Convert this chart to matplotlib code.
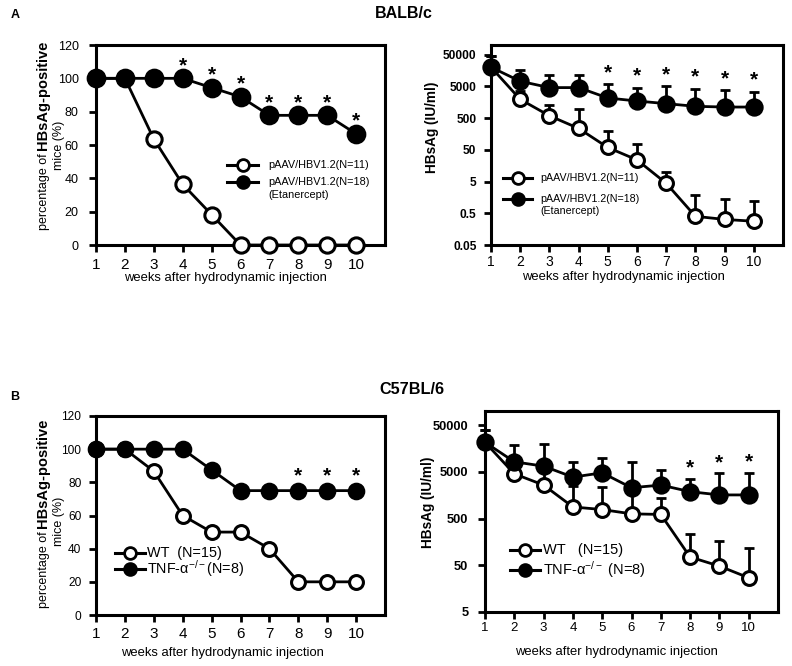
import matplotlib
matplotlib.use("Agg")
import matplotlib.pyplot as plt
from matplotlib.lines import Line2D
from matplotlib.ticker import NullLocator

plt.rcParams['font.family'] = ['Liberation Sans', 'DejaVu Sans']
plt.rcParams['mathtext.fontset'] = 'custom'
plt.rcParams['mathtext.rm'] = 'Liberation Sans'
plt.rcParams['mathtext.it'] = 'Liberation Sans:italic'
plt.rcParams['mathtext.bf'] = 'Liberation Sans:bold'

# ---- data ----
weeks = [1, 2, 3, 4, 5, 6, 7, 8, 9, 10]

# A: BALB/c, percentage HBsAg-positive
balb_pct_ctrl = [100, 100, 63.6, 36.4, 18.2, 0, 0, 0, 0, 0]
balb_pct_etan = [100, 100, 100, 100, 94.4, 88.9, 77.8, 77.8, 77.8, 66.7]
balb_pct_stars = [4, 5, 6, 7, 8, 9, 10]

# A: BALB/c, serum HBsAg (IU/ml), mean and upper SD
balb_hbs_ctrl = [20000, 1940, 590, 236, 59, 24, 4.4, 0.40, 0.32, 0.28]
balb_hbs_ctrl_sd = [24000, 1560, 730, 724, 141, 52, 5.9, 1.54, 1.10, 0.92]
balb_hbs_etan = [20000, 7200, 4550, 4550, 2140, 1720, 1420, 1170, 1110, 1110]
balb_hbs_etan_sd = [24000, 9600, 6550, 6550, 3640, 2830, 3580, 3040, 2630, 2210]
balb_hbs_stars = [5, 6, 7, 8, 9, 10]

# B: C57BL/6, percentage HBsAg-positive
c57_pct_wt = [100, 100, 86.7, 60, 50, 50, 40, 20, 20, 20]
c57_pct_ko = [100, 100, 100, 100, 87.5, 75, 75, 75, 75, 75]
c57_pct_stars = [8, 9, 10]

# B: C57BL/6, serum HBsAg (IU/ml)
c57_hbs_wt = [21400, 4530, 2600, 885, 778, 630, 612, 75, 48, 27]
c57_hbs_wt_sd = [18600, 2470, 2900, 1615, 1612, 1370, 768, 153, 117, 92]
c57_hbs_ko = [21400, 8180, 6600, 3850, 4760, 2280, 2600, 1880, 1600, 1600]
c57_hbs_ko_sd = [18600, 10920, 13400, 4200, 5140, 5770, 2800, 1670, 3000, 3160]
c57_hbs_stars = [8, 9, 10]

pct_ticks = [0, 20, 40, 60, 80, 100, 120]
balb_log_ticks = [0.05, 0.5, 5, 50, 500, 5000, 50000]
c57_log_ticks = [5, 50, 500, 5000, 50000]

W, H = 792, 666
fig = plt.figure(figsize=(W / 100, H / 100), dpi=100)
renderer = fig.canvas.get_renderer()


def fx(x):
    return x / W


def fy(y):
    return 1 - y / H


def make_axes(l, t, r, b):
    return fig.add_axes([fx(l), fy(b), (r - l) / W, (b - t) / H])


def style(ax, ysize, ybold, ypad, xsize, xpad):
    for s in ax.spines.values():
        s.set_linewidth(2.2)
    ax.set_xlim(1, 11)
    ax.set_xticks(weeks)
    ax.set_xticklabels([str(w) for w in weeks], fontsize=xsize)
    ax.tick_params(axis='x', direction='out', length=5, width=2, pad=xpad)
    ax.tick_params(axis='y', direction='out', length=5, width=2, pad=ypad)
    for lab in ax.get_yticklabels():
        lab.set_fontsize(ysize)
        if ybold:
            lab.set_fontweight('bold')
    ax.yaxis.set_minor_locator(NullLocator())


def series(ax, vals, filled, ms, sd=None):
    z = 4 if filled else 3
    if sd is not None:
        ax.errorbar(weeks, vals, yerr=[[0] * len(sd), sd], fmt='none', ecolor='k',
                    elinewidth=2, capsize=3.5, capthick=2, zorder=2.9, clip_on=False)
    ax.plot(weeks, vals, '-o', color='k', lw=2, ms=ms, mew=2.2, mec='k',
            mfc='k' if filled else 'white', clip_on=False, zorder=z)


def stars(ax, which, vals, sd, off):
    for w in which:
        i = weeks.index(w)
        top = vals[i] + (sd[i] if sd is not None else 0)
        ax.annotate('*', xy=(w, top), xytext=(0, off), textcoords='offset points',
                    ha='center', va='baseline', fontsize=15, fontweight='bold',
                    annotation_clip=False)


def legend_row(x0, x1, y, filled, ms, text, size, tx):
    fig.add_artist(Line2D([fx(x0), fx(x1)], [fy(y), fy(y)], color='k', lw=2.2))
    fig.add_artist(Line2D([fx((x0 + x1) / 2)], [fy(y)], marker='o', ms=ms, mew=2,
                          mec='k', mfc='k' if filled else 'white'))
    fig.text(fx(tx), fy(y), text, fontsize=size, ha='left', va='center')


def pct_ylabel(x_base, y_start, x2, y2):
    y = y_start
    for s, wt, sz, gap in [('percentage of', 'normal', 9, 3.5),
                           ('HBsAg-positive', 'bold', 10.5, 0)]:
        t = fig.text(fx(x_base), fy(y), s, rotation=90, rotation_mode='anchor',
                     ha='left', va='baseline', fontsize=sz, fontweight=wt)
        bb = t.get_window_extent(renderer)
        y -= bb.height + gap
    fig.text(fx(x2), fy(y2), 'mice (%)', rotation=90, rotation_mode='anchor',
             ha='center', va='baseline', fontsize=9)


xlab = 'weeks after hydrodynamic injection'

# ---- A, left: percentage ----
ax1 = make_axes(96, 45, 385, 245)
ax1.set_ylim(0, 120)
ax1.set_yticks(pct_ticks)
series(ax1, balb_pct_ctrl, False, 11)
series(ax1, balb_pct_etan, True, 12)
stars(ax1, balb_pct_stars, balb_pct_etan, None, 5)
style(ax1, 9, False, 7.5, 11, 4.5)
pct_ylabel(47, 230, 62, 145)
fig.text(fx(225), fy(278), xlab, fontsize=9.4, ha='center', va='center')
legend_row(227, 258, 165, False, 8.5, 'pAAV/HBV1.2(N=11)', 7.8, 268)
legend_row(227, 258, 182, True, 8.5, 'pAAV/HBV1.2(N=18)', 7.8, 268)
fig.text(fx(268), fy(195), '(Etanercept)', fontsize=7.8, ha='left', va='center')

# ---- A, right: HBsAg ----
ax2 = make_axes(491, 45, 783, 245)
ax2.set_yscale('log')
ax2.set_ylim(0.05, 1e5)
ax2.set_yticks(balb_log_ticks)
ax2.set_yticklabels([f'{v:g}' for v in balb_log_ticks])
series(ax2, balb_hbs_ctrl, False, 10, balb_hbs_ctrl_sd)
series(ax2, balb_hbs_etan, True, 11, balb_hbs_etan_sd)
stars(ax2, balb_hbs_stars, balb_hbs_etan, balb_hbs_etan_sd, 4.5)
style(ax2, 8.6, True, 5.5, 10, 2.5)
fig.text(fx(432), fy(127), 'HBsAg (IU/ml)', rotation=90, ha='center', va='center',
         fontsize=9.8, fontweight='bold')
fig.text(fx(623), fy(277), xlab, fontsize=9.4, ha='center', va='center')
legend_row(503, 532, 178, False, 8.5, 'pAAV/HBV1.2(N=11)', 7.7, 540)
legend_row(503, 532, 199, True, 8.5, 'pAAV/HBV1.2(N=18)', 7.7, 540)
fig.text(fx(540), fy(211), '(Etanercept)', fontsize=7.7, ha='left', va='center')

# ---- B, left: percentage ----
ax3 = make_axes(96, 416, 385, 615)
ax3.set_ylim(0, 120)
ax3.set_yticks(pct_ticks)
series(ax3, c57_pct_wt, False, 10)
series(ax3, c57_pct_ko, True, 10.5)
stars(ax3, c57_pct_stars, c57_pct_ko, None, 6.5)
style(ax3, 8.6, False, 5.5, 11, 4)
pct_ylabel(47, 608, 62, 521)
fig.text(fx(222), fy(653), xlab, fontsize=9.4, ha='center', va='center')
legend_row(115, 145, 553, False, 8.5, 'WT  (N=15)', 10.4, 147)
legend_row(115, 145, 569, True, 8.5, r'TNF-α$^{-/-}$(N=8)', 10.4, 147)

# ---- B, right: HBsAg ----
ax4 = make_axes(485, 411, 778, 612)
ax4.set_yscale('log')
ax4.set_ylim(5, 1e5)
ax4.set_yticks(c57_log_ticks)
ax4.set_yticklabels([f'{v:g}' for v in c57_log_ticks])
series(ax4, c57_hbs_wt, False, 10, c57_hbs_wt_sd)
series(ax4, c57_hbs_ko, True, 11, c57_hbs_ko_sd)
stars(ax4, c57_hbs_stars, c57_hbs_ko, c57_hbs_ko_sd, 4)
style(ax4, 9.3, True, 7, 9.5, 2.5)
fig.text(fx(428), fy(502), 'HBsAg (IU/ml)', rotation=90, ha='center', va='center',
         fontsize=9.8, fontweight='bold')
fig.text(fx(616), fy(652), xlab, fontsize=9.4, ha='center', va='center')
legend_row(510, 540, 550, False, 8.5, 'WT   (N=15)', 10.5, 543)
legend_row(510, 540, 570, True, 8.5, r'TNF-α$^{-/-}$ (N=8)', 10.5, 543)

# ---- panel titles ----
fig.text(fx(15), fy(15), 'A', fontsize=9, fontweight='bold', ha='center', va='center')
fig.text(fx(404), fy(13), 'BALB/c', fontsize=11.5, fontweight='bold', ha='center', va='center')
fig.text(fx(15), fy(397), 'B', fontsize=9, fontweight='bold', ha='center', va='center')
fig.text(fx(412), fy(390), 'C57BL/6', fontsize=11.7, fontweight='bold', ha='center', va='center')

fig.savefig('out.png', dpi=100)
